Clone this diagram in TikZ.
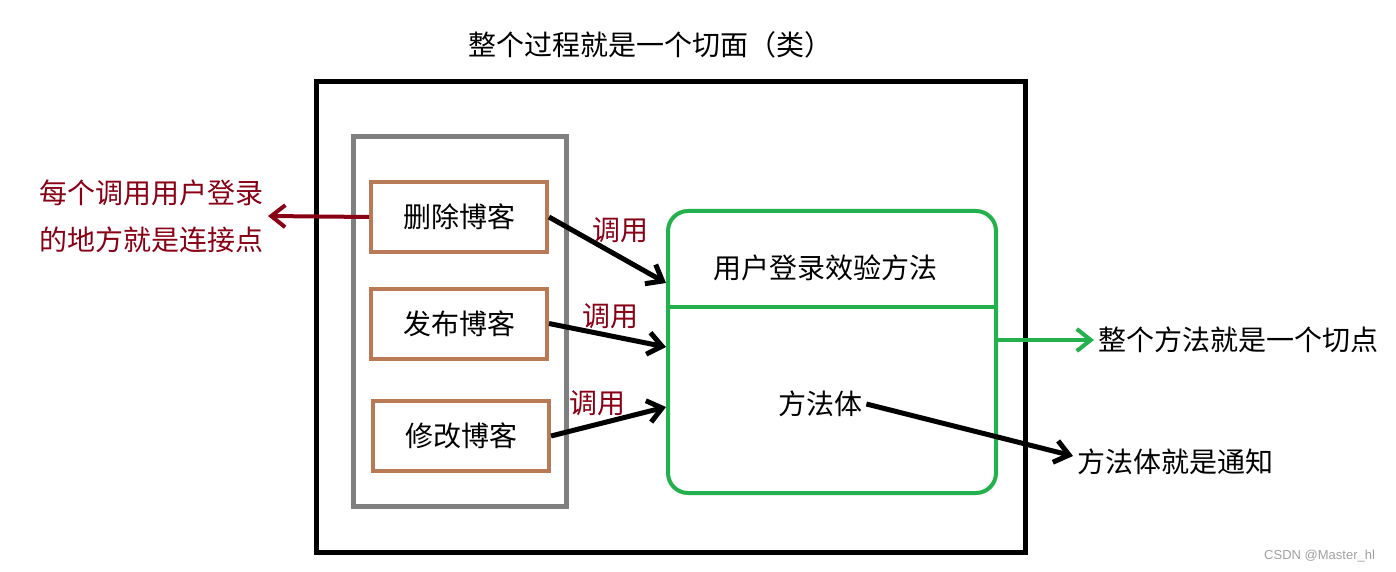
\documentclass[tikz,border=0pt]{standalone}
\usepackage{fontspec}
\newfontfamily\cjk{Noto Sans CJK SC}
\newfontfamily\wmfont{Liberation Sans}
\usetikzlibrary{arrows.meta,positioning}
\definecolor{ink}{HTML}{000000}
\definecolor{brownb}{HTML}{B97A57}
\definecolor{greenb}{HTML}{22B14C}
\definecolor{redt}{HTML}{880015}
\definecolor{grayb}{HTML}{7F7F7F}
\definecolor{wmark}{HTML}{A0A0A0}
\tikzset{
  txt/.style={font=\cjk\fontsize{14}{23.5}\selectfont,text=ink,inner sep=2pt},
  rtxt/.style={txt,text=redt},
  frame/.style={draw=ink,line width=2.5pt,minimum width=354.5pt,minimum height=235pt},
  grp/.style={draw=grayb,line width=2.5pt,minimum width=106.5pt,minimum height=184.5pt},
  caller/.style={txt,draw=brownb,line width=2pt,minimum width=88pt,minimum height=35pt},
  meth/.style={draw=greenb,line width=2pt,rounded corners=10pt,minimum width=164pt,minimum height=141pt},
  call/.style={-{Straight Barb[length=7pt,width=11pt]},line width=2.5pt,color=ink},
  joinarr/.style={call,color=redt,line width=2pt},
  cutarr/.style={call,color=greenb,line width=2pt}
}

\begin{document}
\begin{tikzpicture}[x=0.5pt,y=-0.5pt]
  \useasboundingbox (0,0) rectangle (1396,572);
  % aspect (class) and its title
  \node[frame] (aspect) at (670.5,317) {};
  \node[txt] (title) at (650,45) {整个过程就是一个切面（类）};
  % callers
  \node[grp] (callers) at (459.5,321.5) {};
  \node[caller] (del) at (459,217)   {删除博客};
  \node[caller] (pub) at (459,323.5) {发布博客};
  \node[caller] (mod) at (461,436)   {修改博客};
  % login check method
  \node[meth] (method) at (832,352) {};
  \coordinate (divy) at (0,307);
  \draw[greenb,line width=2pt] (method.west |- divy) -- (method.east |- divy);
  \node[txt] (mname) at (825,268) {用户登录效验方法};
  \node[txt] (body) at (820,404) {方法体};
  % calls into the method
  \draw[call] (del.east) -- ([yshift=34.5pt]method.west);
  \draw[call] (pub.east) -- ([yshift=2.5pt]method.west);
  \draw[call] (mod.east) -- ([yshift=-27.5pt]method.west);
  \node[rtxt] (c1) at (620,230) {调用};
  \node[rtxt] (c2) at (610,316) {调用};
  \node[rtxt] (c3) at (597,403) {调用};
  % annotations
  \node[rtxt,align=left,anchor=east] (joinpt) at (268,216) {每个调用用户登录\\的地方就是连接点};
  \draw[joinarr] (del.west) -- (joinpt.east);
  \node[txt,anchor=west] (cutpt) at (1094,340) {整个方法就是一个切点};
  \draw[cutarr] ([yshift=6pt]method.east) -- (cutpt.west);
  \node[txt,anchor=west] (advice) at (1073,462) {方法体就是通知};
  \draw[call] (body.east) -- ([yshift=3pt]advice.west);
  \node[font=\wmfont\fontsize{6.5}{8}\selectfont,text=wmark,anchor=east] (wm) at (1382,556) {CSDN @Master\_hl};
\end{tikzpicture}
\end{document}
